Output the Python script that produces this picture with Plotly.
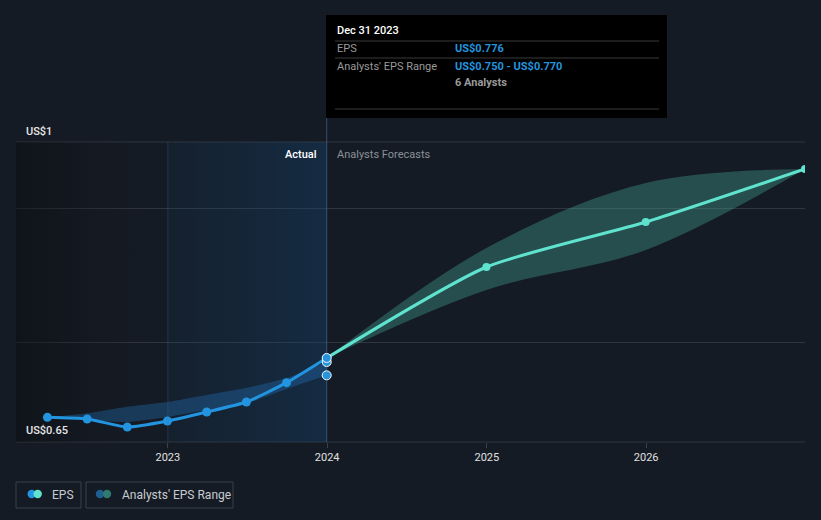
import plotly.graph_objects as go

# ---------------- data ----------------
actual_dates = ['2022-03-31', '2022-06-30', '2022-09-30', '2022-12-31',
                '2023-03-31', '2023-06-30', '2023-09-30', '2023-12-31']
actual_eps = [0.687, 0.6845, 0.6725, 0.6815, 0.695, 0.710, 0.739, 0.776]
past_range_hi = [0.687, 0.693, 0.703, 0.710, 0.7205, 0.731, 0.746, 0.770]
past_range_lo = [0.687, 0.683, 0.680, 0.6875, 0.698, 0.708, 0.7295, 0.750]

fc_dates = ['2023-12-31', '2024-12-31', '2025-12-31', '2026-12-31']
fc_eps = [0.776, 0.9125, 0.980, 1.0595]
fc_hi = [0.776, 0.941, 1.0385, 1.0595]
fc_lo = [0.776, 0.878, 0.938, 1.0595]

n_analysts = 6
tooltip_date = 'Dec 31 2023'
y_grid = [0.65, 0.8, 1.0, 1.1]
x_tickvals = ['2023-01-01', '2024-01-01', '2025-01-01', '2026-01-01']
x_ticktext = ['2023', '2024', '2025', '2026']

# ---------------- layout constants ----------------
W, H = 821, 520
ML, MR, MT, MB = 16, 16, 142, 78
PW, PH = W - ML - MR, H - MT - MB
Y_RANGE = [0.65, 1.1]
X_RANGE = ['2022-01-18', '2026-12-31']
BG = '#151b24'
BLUE = '#2394df'
TEAL = '#5fe3cf'
GRID = '#30363f'
FONT = 'Roboto'


def px(x):
    return (x - ML) / PW


def py(y):
    return (H - MB - y) / PH


fig = go.Figure()

# dark "past" region gradient
fig.add_trace(go.Scatter(
    x=[X_RANGE[0], '2023-01-01', '2023-01-01', X_RANGE[0], X_RANGE[0]],
    y=[Y_RANGE[0], Y_RANGE[0], Y_RANGE[1], Y_RANGE[1], Y_RANGE[0]],
    mode='none', fill='toself',
    fillgradient=dict(type='horizontal',
                      colorscale=[[0, 'rgba(8,10,13,0.45)'], [1, 'rgba(21,27,36,0)']]),
    hoverinfo='skip', showlegend=False))

# "Actual" region gradient
fig.add_trace(go.Scatter(
    x=['2023-01-01', actual_dates[-1], actual_dates[-1], '2023-01-01', '2023-01-01'],
    y=[Y_RANGE[0], Y_RANGE[0], Y_RANGE[1], Y_RANGE[1], Y_RANGE[0]],
    mode='none', fill='toself',
    fillgradient=dict(type='horizontal',
                      colorscale=[[0, 'rgba(20,70,115,0.12)'], [1, 'rgba(20,70,115,0.38)']]),
    hoverinfo='skip', showlegend=False))

# past analysts range band
fig.add_trace(go.Scatter(x=actual_dates, y=past_range_hi, mode='lines',
                         line=dict(width=0, shape='spline', smoothing=0.6),
                         hoverinfo='skip', showlegend=False))
fig.add_trace(go.Scatter(x=actual_dates, y=past_range_lo, mode='lines',
                         line=dict(width=0, shape='spline', smoothing=0.6),
                         fill='tonexty', fillcolor='rgba(35,120,200,0.33)',
                         hoverinfo='skip', showlegend=False))

# forecast band
fig.add_trace(go.Scatter(x=fc_dates, y=fc_hi, mode='lines',
                         line=dict(width=0, shape='spline', smoothing=1.0),
                         hoverinfo='skip', showlegend=False))
fig.add_trace(go.Scatter(x=fc_dates, y=fc_lo, mode='lines',
                         line=dict(width=0, shape='spline', smoothing=1.0),
                         fill='tonexty', fillcolor='rgba(70,170,155,0.36)',
                         hoverinfo='skip', showlegend=False))

# forecast line
fig.add_trace(go.Scatter(x=fc_dates[1:], y=fc_eps[1:], mode='markers',
                         marker=dict(size=8, color=TEAL),
                         hoverinfo='skip', showlegend=False))
fig.add_trace(go.Scatter(x=fc_dates, y=fc_eps, mode='lines',
                         line=dict(width=3, color=TEAL, shape='spline', smoothing=0.6),
                         hoverinfo='skip', showlegend=False))

# actual EPS line
fig.add_trace(go.Scatter(x=actual_dates, y=actual_eps, mode='lines+markers',
                         line=dict(width=3, color=BLUE, shape='spline', smoothing=0.5),
                         marker=dict(size=9, color=BLUE),
                         hoverinfo='skip', showlegend=False))

# highlighted markers at the last actual date
fig.add_trace(go.Scatter(x=[actual_dates[-1]] * 3,
                         y=[past_range_lo[-1], past_range_hi[-1], actual_eps[-1]],
                         mode='markers',
                         marker=dict(size=9, color=BLUE, line=dict(width=1, color='white')),
                         hoverinfo='skip', showlegend=False))

shapes = []
# top and bottom grid lines (at the range edges)
for yy in (0, 1):
    shapes.append(dict(type='line', xref='paper', yref='paper', x0=0, x1=1, y0=yy, y1=yy,
                       line=dict(color=GRID, width=1), layer='below'))
# vertical divider at last actual date
shapes.append(dict(type='line', xref='x', yref='paper', x0=actual_dates[-1], x1=actual_dates[-1],
                   y0=0, y1=py(118), line=dict(color='rgba(90,140,190,0.45)', width=1)))
shapes.append(dict(type='line', xref='x', yref='paper', x0='2023-01-01', x1='2023-01-01',
                   y0=0, y1=1, line=dict(color='rgba(60,110,160,0.30)', width=1)))

# tooltip box
shapes.append(dict(type='rect', xref='paper', yref='paper', x0=px(326), x1=px(667),
                   y0=py(118), y1=py(15), fillcolor='#000000', line=dict(width=0), layer='above'))
for yy in (41, 58, 109):
    shapes.append(dict(type='line', xref='paper', yref='paper', x0=px(335), x1=px(659),
                       y0=py(yy), y1=py(yy), line=dict(color='#3a3a3a', width=1), layer='above'))

# legend boxes
for (x0, x1) in ((16, 81), (86, 233)):
    shapes.append(dict(type='rect', xref='paper', yref='paper', x0=px(x0), x1=px(x1),
                       y0=py(508), y1=py(482), fillcolor='rgba(0,0,0,0)',
                       line=dict(color='#3b414b', width=1)))
r = 4.2
for (cx, col) in ((31.7, BLUE), (37.7, TEAL), (100, '#1f5f92'), (107, '#2f7a70')):
    shapes.append(dict(type='circle', xref='paper', yref='paper',
                       x0=px(cx - r), x1=px(cx + r), y0=py(494 + r), y1=py(494 - r),
                       fillcolor=col, line=dict(width=0)))

ann = []


def text(x, y, s, color, size=11, anchor='left', weight='normal'):
    ann.append(dict(xref='paper', yref='paper', x=px(x), y=py(y), text=s, showarrow=False,
                    xanchor=anchor, yanchor='middle',
                    font=dict(family=FONT, size=size, color=color, weight=weight)))


# y labels
text(24, 131, 'US$1', '#e8e8e8', 11, weight=500)
text(24, 430, 'US$0.65', '#e8e8e8', 11, weight=500)
# region labels
text(319, 154, 'Actual', '#ffffff', 11, anchor='right', weight=500)
text(335, 154, 'Analysts Forecasts', '#8a9099', 11)
# tooltip texts
text(335, 31, tooltip_date, '#ffffff', 11, weight=500)
text(335, 49, 'EPS', '#9a9a9a', 11)
text(453, 49, 'US${:.3f}'.format(actual_eps[-1]), BLUE, 11, weight='bold')
text(335, 66.5, "Analysts' EPS Range", '#9a9a9a', 11)
text(453, 66.5, 'US${:.3f} - US${:.3f}'.format(past_range_lo[-1], past_range_hi[-1]), BLUE, 11,
     weight='bold')
text(453, 83, '{} Analysts'.format(n_analysts), '#9a9a9a', 11, weight='bold')
# legend texts
text(50, 494.5, 'EPS', '#c8cbd0', 12)
text(120, 494.5, "Analysts' EPS Range", '#c8cbd0', 12)

fig.update_layout(
    width=W, height=H,
    margin=dict(l=ML, r=MR, t=MT, b=MB),
    paper_bgcolor=BG, plot_bgcolor=BG,
    showlegend=False,
    shapes=shapes, annotations=ann,
    font=dict(family=FONT),
    xaxis=dict(type='date', range=X_RANGE, tickvals=x_tickvals, ticktext=x_ticktext,
               showgrid=False, zeroline=False, showline=False,
               ticks='outside', ticklen=5, tickcolor='#3a4049',
               tickfont=dict(family=FONT, size=11, color='#e0e0e0'),
               fixedrange=True),
    yaxis=dict(range=Y_RANGE, tickvals=y_grid, showticklabels=False,
               showgrid=True, gridcolor=GRID, gridwidth=1, zeroline=False,
               fixedrange=True),
)

fig.write_html('out.html')
